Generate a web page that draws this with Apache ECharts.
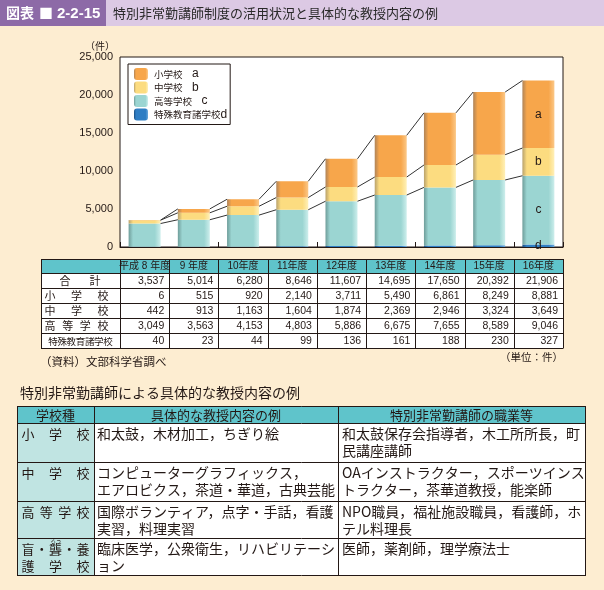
<!DOCTYPE html>
<html><head><meta charset="utf-8">
<script src="https://cdn.jsdelivr.net/npm/echarts@6/dist/echarts.min.js"></script>
<style>html,body{margin:0;padding:0;background:#fdedd1}#wrap{position:relative;width:604px;height:590px}#c,#o{position:absolute;left:0;top:0;width:604px;height:590px}#o{pointer-events:none}</style>
</head><body><div id="wrap"><div id="c"></div><div id="o"></div></div>
<script>
// ---- data ----
const years = ['平成 8 年度','9 年度','10年度','11年度','12年度','13年度','14年度','15年度','16年度'];
const totals = [3537,5014,6280,8646,11607,14695,17650,20392,21906];
const elementary = [6,515,920,2140,3711,5490,6861,8249,8881];
const juniorHigh = [442,913,1163,1604,1874,2369,2946,3324,3649];
const highSchool = [3049,3563,4153,4803,5886,6675,7655,8589,9046];
const specialSchool = [40,23,44,99,136,161,188,230,327];
const seriesNames = ['小学校　a','中学校　b','高等学校　c','特殊教育諸学校d'];
const segLetters = ['a','b','c','d'];
const tableRowLabels = ['合計','小学校','中学校','高等学校','特殊教育諸学校'];
const yMax = 25000, yStep = 5000;
const exHeader = ['学校種','具体的な教授内容の例','特別非常勤講師の職業等'];
const exSchool = [['小学校'],['中学校'],['高等学校'],['盲・聾・養','護学校']];
const exContent = [['和太鼓，木材加工，ちぎり絵'],['コンピューターグラフィックス，','エアロビクス，茶道・華道，古典芸能'],['国際ボランティア，点字・手話，看護','実習，料理実習'],['臨床医学，公衆衛生，リハビリテーシ','ョン']];
const exJob = [['和太鼓保存会指導者，木工所所長，町','民講座講師'],['OAインストラクター，スポーツインス','トラクター，茶華道教授，能楽師'],['NPO職員，福祉施設職員，看護師，ホ','テル料理長'],['医師，薬剤師，理学療法士']];

// ---- derived ----
const cumC = highSchool.map((v,i)=>v+specialSchool[i]);
const cumB = cumC.map((v,i)=>v+juniorHigh[i]);
const cumA = cumB.map((v,i)=>v+elementary[i]);
const levels = [cumC, cumB, cumA];
const BARW = 0.65;
const connectorData = [];
for(let i=0;i<years.length-1;i++){
  levels.forEach(lv=>connectorData.push({coords:[[i+BARW/2, lv[i]],[i+1-BARW/2, lv[i+1]]]}));
}

const FONT_CJK = '"Noto Sans CJK JP"';
const FONT_NUM = '"Liberation Sans","Noto Sans CJK JP"';
const INK = '#231815';
function grad(dark, main, light){
  return new echarts.graphic.LinearGradient(0,0,1,0,[
    {offset:0,color:dark},{offset:0.14,color:main},{offset:0.82,color:main},{offset:1,color:light}]);
}
const colA = grad('#b08458','#f7a64b','#fbc888');
const colB = grad('#b9a26c','#fcdc80','#fff0b8');
const colC = grad('#6f9d9a','#9bd5d2','#cdeeec');
const colD = grad('#1b4f82','#2f7ec4','#6aa8dc');

const GL=120, GT=57, GW=443, GH=190;

function mkData(arr){ return arr.map((v,i)=> i===arr.length-1 ? {value:v, label:{show:true}} : v); }
function barSeries(name, arr, color, letter){
  return {name, type:'bar', stack:'t', barWidth:(BARW*100)+'%', data:mkData(arr),
    itemStyle:{color},
    label:{show:false, position:'inside', formatter:letter, color:INK, fontSize:12, fontFamily:'Liberation Sans'}};
}

// ---- graphics (tables, header) ----
const g = [];
function txt(x,y,text,size,opts={}){
  g.push({type:'text', x, y, silent:true, z:10, style:{text, fill:opts.fill||INK,
    font:(opts.weight||'normal')+' '+size+'px '+(opts.family||FONT_CJK),
    textAlign:opts.align||'left', textVerticalAlign:'middle'}});
}
function rect(x,y,w,h,fill){ g.push({type:'rect', silent:true, z:5, shape:{x,y,width:w,height:h}, style:{fill}}); }
function line(x1,y1,x2,y2,c=INK,w=1){ g.push({type:'line', silent:true, z:8, shape:{x1,y1,x2,y2}, style:{stroke:c,lineWidth:w}}); }
function spread(str,x0,x1,y,size){
  const ch=[...str], n=ch.length;
  ch.forEach((c,i)=>txt(n===1?(x0+x1)/2:x0+(x1-x0)*i/(n-1), y, c, size, {align:'center'}));
}

// header band
rect(0,0,604,26,'#dcc9e4');
rect(0,0,106,26,'#8d6aa7');
txt(6,13,'図表',14,{fill:'#fff',weight:'bold'});
txt(39,13,'■',14,{fill:'#fff'});
txt(57,13.5,'2-2-15',15,{fill:'#fff',weight:'bold',family:FONT_NUM});
txt(113,13,'特別非常勤講師制度の活用状況と具体的な教授内容の例',13,{fill:'#2a2a2a'});

// axis unit
txt(100,46,'（件）',10,{align:'center'});

// table 1
const t1L=41, t1R=GL+GW, t1Top=259, t1HeadH=14, t1RowH=15;
const colW = GW/years.length;
const t1Rows=[totals,elementary,juniorHigh,highSchool,specialSchool];
const t1Bottom = t1Top+t1HeadH+t1RowH*t1Rows.length;
rect(t1L,t1Top,t1R-t1L,t1HeadH,'#5fc4cb');
rect(t1L,t1Top+t1HeadH,t1R-t1L,t1RowH*t1Rows.length,'#ffffff');
line(t1L,t1Top+0.5,t1R,t1Top+0.5);
for(let r=0;r<=t1Rows.length;r++){ const y=Math.round(t1Top+t1HeadH+r*t1RowH)+0.5; line(t1L,y,t1R,y); }
line(t1L+0.5,t1Top,t1L+0.5,t1Bottom+0.5);
for(let c=0;c<=years.length;c++){ const x=Math.round(GL+c*colW)+0.5; line(x,t1Top,x,t1Bottom+0.5); }
years.forEach((y,c)=>txt(GL+(c+0.5)*colW, t1Top+t1HeadH/2+0.5, y, 10, {align:'center',family:FONT_NUM}));
t1Rows.forEach((arr,r)=>{
  const cy=t1Top+t1HeadH+(r+0.5)*t1RowH+0.5;
  const lab=tableRowLabels[r], n=[...lab].length;
  if(n<=2) spread(lab,65,95,cy,11);
  else if(n<=4) spread(lab,50,103,cy,11);
  else spread(lab,53,108,cy,9.5);
  arr.forEach((v,c)=>txt(GL+(c+1)*colW-5, cy, v.toLocaleString('en-US'), 10.5, {align:'right',family:FONT_NUM}));
});
txt(40,362,'（資料）文部科学省調べ',11.5);
txt(563,357,'（単位：件）',10.5,{align:'right'});

// table 2
txt(20,393,'特別非常勤講師による具体的な教授内容の例',14);
const t2X=[17,94,338,585];
const t2Y=[406,423,462,501,538,575];
rect(t2X[0],t2Y[0],t2X[3]-t2X[0],t2Y[1]-t2Y[0],'#5fc4cb');
rect(t2X[0],t2Y[1],t2X[1]-t2X[0],t2Y[5]-t2Y[1],'#c0e4e2');
rect(t2X[1],t2Y[1],t2X[3]-t2X[1],t2Y[5]-t2Y[1],'#ffffff');
t2Y.forEach(y=>line(t2X[0],y+0.5,t2X[3]+1,y+0.5));
t2X.forEach(x=>line(x+0.5,t2Y[0],x+0.5,t2Y[5]+1));
exHeader.forEach((h,c)=>txt((t2X[c]+t2X[c+1])/2, (t2Y[0]+t2Y[1])/2+0.5, h, 13, {align:'center'}));
for(let r=0;r<exSchool.length;r++){
  const top=t2Y[r+1];
  exSchool[r].forEach((s,k)=>spread(s,28,83,top+11+k*17,13));
  exContent[r].forEach((s,k)=>txt(97,top+11+k*17,s,14));
  exJob[r].forEach((s,k)=>txt(342,top+11+k*17,s,14));
}
txt(56,t2Y[4]+2.5,'ろう',5.5,{align:'center'});

const option = {
  animation:false,
  backgroundColor:'#fdedd1',
  textStyle:{fontFamily:'"Liberation Sans","Noto Sans CJK JP",sans-serif'},
  grid:{left:GL, top:GT, width:GW, height:GH, show:true, backgroundColor:'#ffffff', borderColor:INK, borderWidth:1},
  legend:{
    data:seriesNames, orient:'vertical', left:128, top:64, padding:[4,3,4,6], itemGap:1.5,
    itemWidth:14, itemHeight:12, backgroundColor:'#fff', borderColor:INK, borderWidth:1, borderRadius:0,
    selectedMode:false,
    formatter:n=>n.replace(/([a-d])$/,'{l|$1}'),
    textStyle:{fontSize:9.5, color:INK, fontFamily:FONT_CJK, padding:[0,0,0,1],
      rich:{l:{fontSize:12, fontFamily:'Liberation Sans', color:INK}}}
  },
  xAxis:{type:'category', data:years, boundaryGap:true,
     axisLine:{lineStyle:{color:INK,width:1}}, axisTick:{show:true, inside:true, length:5, lineStyle:{color:INK}},
     axisLabel:{show:false}, splitLine:{show:false}},
  yAxis:{type:'value', min:0, max:yMax, interval:yStep,
    axisLine:{show:false}, axisTick:{show:false}, splitLine:{show:false},
    axisLabel:{fontSize:11, color:INK, margin:7, fontFamily:'Liberation Sans', formatter:v=>v.toLocaleString('en-US')}},
  series:[
    barSeries(seriesNames[3], specialSchool, colD, segLetters[3]),
    barSeries(seriesNames[2], highSchool, colC, segLetters[2]),
    barSeries(seriesNames[1], juniorHigh, colB, segLetters[1]),
    barSeries(seriesNames[0], elementary, colA, segLetters[0])
  ],
  graphic:{elements:g}
};
const chart = echarts.init(document.getElementById('c'), null, {renderer:'canvas'});
chart.setOption(option);

// overlay chart with the same grid and scales, drawing only the connector lines
const overlay = echarts.init(document.getElementById('o'), null, {renderer:'canvas'});
overlay.setOption({
  animation:false,
  grid:{left:GL, top:GT, width:GW, height:GH, show:false},
  xAxis:[{type:'category', data:years, show:false},
         {type:'value', min:-0.5, max:years.length-0.5, show:false}],
  yAxis:{type:'value', min:0, max:yMax, show:false},
  series:[{type:'lines', coordinateSystem:'cartesian2d', xAxisIndex:1, yAxisIndex:0, z:5,
    data:connectorData, lineStyle:{color:'#333', width:1, opacity:1}}]
});
</script></body></html>
